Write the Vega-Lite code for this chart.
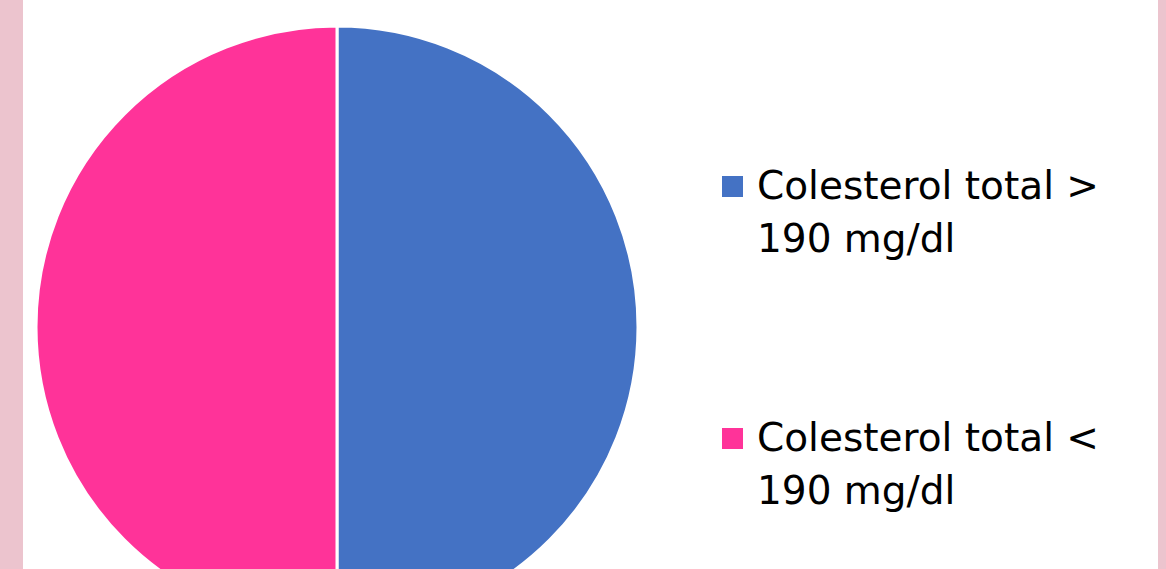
{
  "$schema": "https://vega.github.io/schema/vega-lite/v6.json",
  "autosize": "none",
  "width": 1135,
  "height": 569,
  "padding": {"left": 23, "right": 8, "top": 0, "bottom": 0},
  "background": "#ecc4ce",
  "view": {"fill": "white", "stroke": null},
  "config": {"style": {"guide-label": {"lineHeight": 53}}},
  "data": {
    "values": [
      {"category": "Colesterol total > 190 mg/dl", "value": 50, "order": 1},
      {"category": "Colesterol total < 190 mg/dl", "value": 50, "order": 2}
    ]
  },
  "mark": {"type": "arc", "radius": 301, "x": 314, "y": 327, "stroke": "white", "strokeWidth": 3},
  "encoding": {
    "theta": {"field": "value", "type": "quantitative", "stack": true},
    "order": {"field": "order", "type": "quantitative"},
    "color": {
      "field": "category",
      "type": "nominal",
      "scale": {
        "domain": ["Colesterol total > 190 mg/dl", "Colesterol total < 190 mg/dl"],
        "range": ["#4472c4", "#ff3399"]
      },
      "legend": {
        "title": null,
        "orient": "none",
        "legendX": 690,
        "legendY": 167,
        "symbolType": "square",
        "symbolSize": 441,
        "symbolStrokeWidth": 0,
        "labelFont": "DejaVu Sans",
        "labelFontSize": 39,
        "labelColor": "black",
        "labelLimit": 600,
        "labelOffset": 5,
        "rowPadding": 159,
        "labelExpr": "[slice(datum.label, 0, 18), slice(datum.label, 19)]"
      }
    }
  }
}
